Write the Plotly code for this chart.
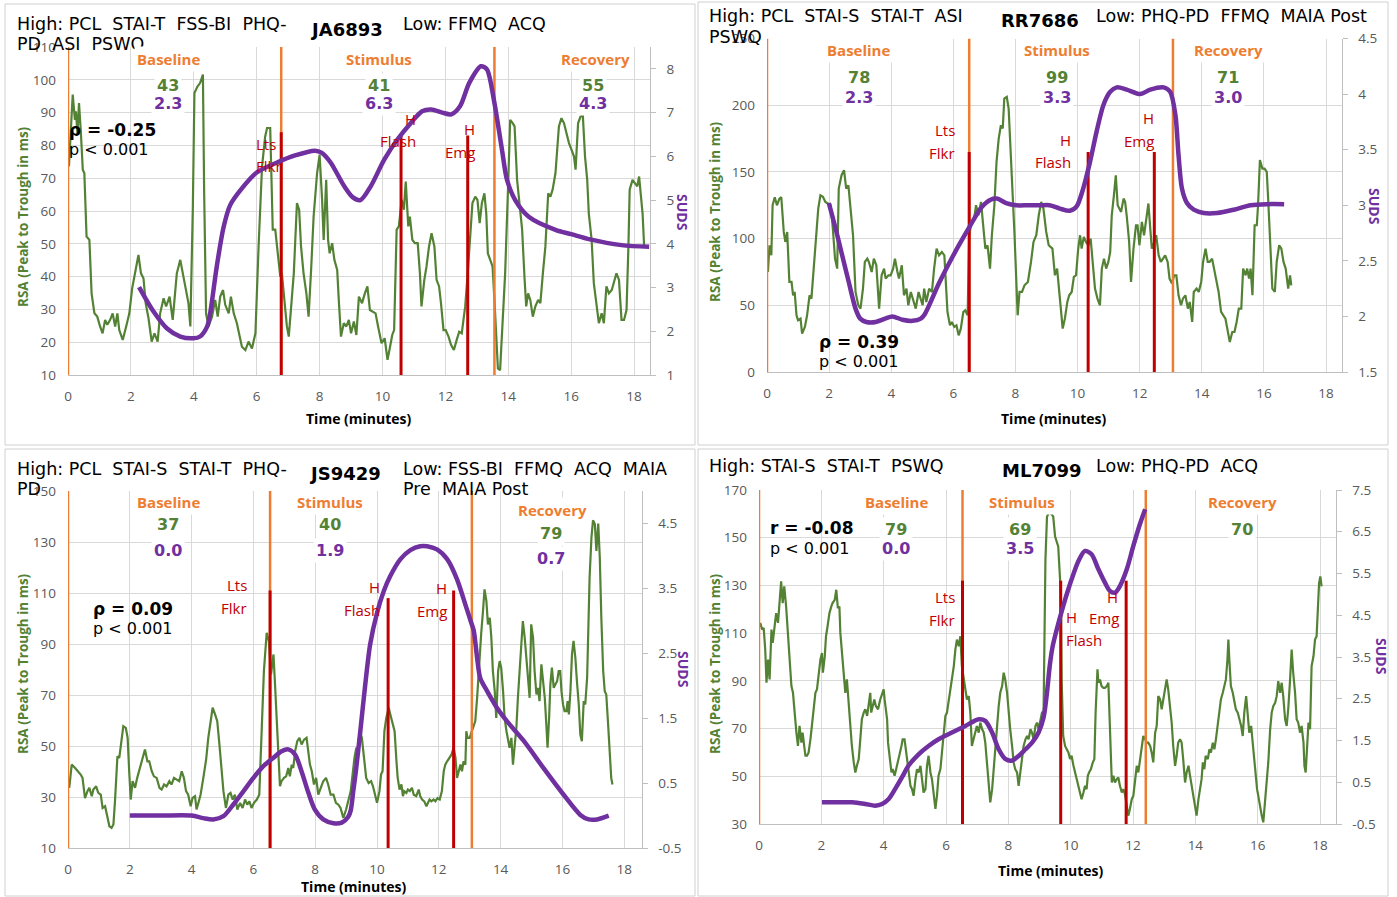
import plotly.graph_objects as go

W, H = 1397, 897
GREEN = '#548235'
PURPLE = '#7030A0'
ORANGE = '#ED7D31'
RED = '#C00000'
GRID = '#D9D9D9'
AXIS = '#BFBFBF'
TICK = '#595959'
SANS = 'Open Sans, DejaVu Sans, sans-serif'
VERD = 'DejaVu Sans, Verdana, sans-serif'

# ---------------- Panel 1 : JA6893 ----------------
p1_rsa = [(0.03,73.6),(0.15,95.5),(0.22,87.8),(0.25,90.4),(0.30,83.8),(0.35,92.9),(0.41,83.8),(0.47,72.6),(0.52,71.5),(0.59,52.2),(0.68,51.2),(0.75,34.9),(0.84,28.8),(0.93,27.8),(1.02,24.8),(1.10,22.7),(1.18,26.8),(1.25,25.3),(1.34,26.8),(1.42,28.8),(1.50,24.8),(1.57,28.8),(1.63,23.7),(1.74,20.7),(1.85,24.8),(1.95,28.8),(2.04,36.4),(2.13,40.5),(2.24,46.6),(2.32,41.0),(2.40,39.5),(2.47,31.9),(2.56,27.3),(2.66,20.2),(2.75,22.7),(2.85,20.2),(2.93,28.8),(3.04,33.4),(3.12,30.9),(3.23,33.9),(3.33,26.8),(3.46,41.0),(3.57,45.1),(3.67,40.0),(3.76,34.9),(3.83,31.9),(3.89,24.8),(3.97,61.4),(4.02,96.0),(4.12,98.0),(4.20,99.0),(4.29,101.6),(4.33,65.4),(4.39,28.8),(4.47,24.8),(4.58,27.8),(4.68,32.9),(4.76,27.8),(4.84,33.9),(4.93,35.9),(5.00,31.4),(5.11,28.8),(5.18,33.9),(5.27,28.8),(5.37,25.8),(5.53,18.6),(5.64,17.6),(5.74,20.2),(5.85,18.1),(5.96,22.7),(6.06,49.2),(6.17,73.6),(6.27,82.7),(6.33,85.3),(6.43,85.3),(6.51,54.3),(6.59,54.3),(6.67,46.1),(6.75,40.0),(6.80,41.0),(6.88,32.9),(6.96,24.8),(7.02,21.7),(7.09,30.9),(7.18,41.0),(7.28,62.4),(7.35,60.4),(7.41,49.2),(7.49,41.0),(7.58,34.9),(7.65,27.8),(7.73,42.0),(7.81,58.3),(7.92,71.5),(8.00,77.1),(8.08,63.4),(8.13,51.2),(8.21,69.5),(8.27,51.2),(8.32,47.1),(8.40,50.2),(8.47,45.1),(8.56,42.0),(8.61,32.9),(8.68,21.7),(8.77,25.8),(8.85,24.8),(8.93,26.8),(9.00,22.7),(9.09,26.3),(9.17,22.2),(9.25,33.9),(9.35,31.9),(9.44,34.9),(9.52,37.0),(9.60,29.8),(9.70,29.3),(9.78,28.8),(9.86,24.8),(9.97,19.7),(10.07,21.2),(10.16,14.6),(10.23,18.1),(10.31,22.2),(10.37,23.7),(10.45,54.3),(10.52,55.3),(10.61,63.4),(10.68,60.4),(10.74,69.0),(10.82,55.3),(10.87,58.3),(10.95,51.2),(11.03,50.2),(11.12,50.2),(11.19,41.0),(11.24,30.9),(11.33,39.0),(11.40,43.1),(11.48,49.2),(11.56,53.2),(11.65,49.2),(11.72,39.0),(11.80,37.0),(11.86,31.9),(11.94,23.7),(12.01,23.7),(12.10,21.7),(12.18,19.2),(12.27,17.6),(12.36,20.7),(12.44,23.2),(12.52,22.7),(12.63,30.9),(12.71,41.0),(12.79,51.2),(12.86,62.4),(12.95,64.4),(13.02,63.4),(13.09,56.3),(13.16,62.4),(13.24,65.4),(13.30,59.3),(13.35,47.1),(13.43,45.1),(13.50,43.1),(13.56,32.9),(13.62,20.7),(13.67,12.0),(13.74,11.5),(13.82,24.8),(13.90,41.0),(13.99,66.5),(14.06,87.8),(14.14,86.8),(14.20,85.8),(14.28,69.5),(14.35,63.4),(14.44,54.3),(14.52,39.0),(14.57,30.9),(14.63,34.9),(14.70,32.9),(14.78,27.8),(14.86,30.9),(14.95,32.9),(15.02,31.9),(15.10,41.0),(15.18,49.2),(15.27,65.4),(15.34,64.4),(15.41,66.5),(15.50,71.5),(15.61,85.8),(15.69,88.3),(15.77,86.8),(15.84,83.8),(15.93,80.7),(16.01,78.7),(16.09,76.6),(16.14,72.6),(16.22,86.8),(16.30,88.8),(16.37,89.3),(16.44,76.6),(16.51,69.5),(16.56,59.3),(16.65,51.2),(16.72,38.0),(16.80,31.9),(16.88,25.8),(16.97,28.8),(17.04,25.8),(17.12,37.0),(17.20,34.9),(17.29,35.9),(17.36,38.0),(17.44,41.0),(17.52,39.0),(17.60,26.8),(17.68,26.8),(17.76,29.8),(17.82,49.2),(17.86,66.5),(17.95,69.5),(18.03,68.5),(18.10,67.5),(18.16,70.5),(18.22,65.4),(18.27,59.3),(18.32,49.2)]
p1_suds = [(2.26,3.01),(2.72,2.45),(3.14,2.07),(3.57,1.88),(3.99,1.84),(4.2,1.88),(4.42,2.1),(4.52,2.41),(4.73,3.48),(4.95,4.39),(5.16,4.89),(5.51,5.25),(6.0,5.63),(6.65,5.86),(7.22,6.02),(7.85,6.13),(8.07,6.08),(8.35,5.86),(8.78,5.32),(9.06,5.06),(9.3,5.0),(9.63,5.32),(10.06,5.93),(10.48,6.39),(10.91,6.77),(11.26,7.03),(11.55,7.07),(11.9,7.0),(12.19,6.96),(12.47,7.15),(12.76,7.68),(13.13,8.06),(13.32,7.99),(13.54,7.3),(13.8,6.15),(13.96,5.46),(14.22,5.0),(14.65,4.62),(15.5,4.32),(16.0,4.22),(16.6,4.1),(17.6,3.97),(18.48,3.93)]
p1_phase = [0.0, 6.78, 13.56]
p1_event = [6.78, 10.59, 12.71]
p1_event_top = [84, 83, 83]
p1_left = [10, 110]
p1_right = [1, 8.5]
p1_right_ticks = [1, 2, 3, 4, 5, 6, 7, 8]

# ---------------- Panel 2 : RR7686 ----------------
p2_rsa = [(0.03,75),(0.08,95),(0.14,87.5),(0.18,125),(0.25,131),(0.32,125),(0.40,130),(0.46,131),(0.54,105),(0.59,97.5),(0.65,105),(0.72,67.5),(0.79,67.5),(0.84,57.5),(0.89,60),(0.95,42.5),(1.00,38.8),(1.08,40),(1.13,28.8),(1.22,33.8),(1.29,42.5),(1.37,57.5),(1.43,55),(1.51,82.5),(1.58,102.5),(1.65,122.5),(1.72,132.5),(1.80,131.3),(1.88,127.5),(1.97,126.3),(2.05,125),(2.12,107.5),(2.19,85),(2.26,77.5),(2.31,137.5),(2.40,147.5),(2.48,151.3),(2.55,137.5),(2.62,140),(2.69,122.5),(2.77,102.5),(2.85,60),(2.94,50),(3.01,47.5),(3.09,62.5),(3.15,82.5),(3.23,85),(3.28,82.5),(3.37,75),(3.44,85),(3.52,80),(3.61,47.5),(3.69,72.5),(3.77,77.5),(3.82,70),(3.91,72.5),(3.98,72.5),(4.06,77.5),(4.12,85),(4.20,75),(4.25,70),(4.34,80),(4.41,57.5),(4.49,62.5),(4.55,50),(4.63,60),(4.70,55),(4.79,47.5),(4.88,60),(4.95,55),(5.01,50),(5.06,62.5),(5.13,52.5),(5.22,62.5),(5.31,60),(5.38,77.5),(5.46,92.5),(5.54,87.5),(5.63,90),(5.71,87.5),(5.76,62.5),(5.81,45),(5.89,35),(5.95,37.5),(6.03,33.8),(6.10,35),(6.17,27.5),(6.24,32.5),(6.32,45),(6.38,46.3),(6.46,42.5),(6.51,102.5),(6.59,112.5),(6.67,115),(6.73,125),(6.81,117.5),(6.89,127.5),(6.96,112.5),(7.03,92.5),(7.10,95),(7.18,77.5),(7.24,102.5),(7.32,125),(7.39,157.5),(7.46,175),(7.53,185),(7.59,182.5),(7.64,205),(7.72,206.3),(7.78,197.5),(7.86,162.5),(7.91,132.5),(7.97,102.5),(8.02,77.5),(8.07,42.5),(8.13,60),(8.21,60),(8.29,65),(8.40,67.5),(8.50,82.5),(8.58,97.5),(8.67,102.5),(8.75,117.5),(8.83,127.5),(8.90,122.5),(8.99,105),(9.07,95),(9.19,92.5),(9.27,72.5),(9.34,77.5),(9.43,52.5),(9.52,32.5),(9.59,40),(9.67,52.5),(9.73,57.5),(9.81,60),(9.88,71.3),(9.95,72.5),(10.02,92.5),(10.08,102.5),(10.13,92.5),(10.20,101.3),(10.27,97.5),(10.34,95),(10.42,100),(10.48,82.5),(10.56,62.5),(10.64,55),(10.72,50),(10.78,77.5),(10.85,85),(10.92,77.5),(10.99,82.5),(11.05,90),(11.10,117.5),(11.17,132.5),(11.23,147.5),(11.29,125),(11.35,122.5),(11.40,120),(11.48,130),(11.53,127.5),(11.58,117.5),(11.66,97.5),(11.72,67.5),(11.80,92.5),(11.88,110),(11.93,110),(11.99,95),(12.07,112.5),(12.14,102.5),(12.21,115),(12.28,126.3),(12.34,107.5),(12.39,92.5),(12.47,97.5),(12.53,102.5),(12.61,87.5),(12.68,82.5),(12.75,85),(12.82,87.5),(12.90,82.5),(12.96,70),(13.04,66.3),(13.11,72.5),(13.18,72.5),(13.25,57.5),(13.33,50),(13.39,55),(13.47,57.5),(13.55,47.5),(13.61,52.5),(13.69,37.5),(13.74,60),(13.83,62.5),(13.90,60),(13.98,67.5),(14.04,82.5),(14.12,92.5),(14.19,82.5),(14.25,82.5),(14.33,85),(14.40,77.5),(14.49,67.5),(14.54,60),(14.62,45),(14.68,42.5),(14.76,40),(14.84,30),(14.90,22.5),(14.98,30),(15.05,30),(15.12,37.5),(15.19,47.5),(15.27,47.5),(15.33,77.5),(15.41,72.5),(15.46,77.5),(15.52,70),(15.57,77.5),(15.63,57.5),(15.70,110),(15.77,110),(15.81,125),(15.87,158.8),(15.95,152.5),(16.02,152.5),(16.09,150),(16.13,132.5),(16.20,97.5),(16.27,62.5),(16.35,60),(16.41,82.5),(16.49,95),(16.56,92.5),(16.63,82.5),(16.70,77.5),(16.78,62.5),(16.84,72.5),(16.88,65)]
p2_suds = [(1.99,3.02),(2.2,2.8),(2.42,2.55),(2.64,2.3),(2.85,2.07),(3.0,1.98),(3.2,1.95),(3.5,1.95),(3.8,1.98),(4.04,2.0),(4.36,1.97),(4.68,1.96),(4.95,1.98),(5.08,2.02),(5.54,2.3),(6.0,2.55),(6.51,2.8),(6.9,2.98),(7.2,3.05),(7.4,3.06),(7.7,3.02),(8.02,3.0),(8.4,3.0),(8.8,3.0),(9.1,3.0),(9.43,2.97),(9.75,2.95),(9.97,2.99),(10.18,3.15),(10.4,3.39),(10.61,3.66),(10.83,3.9),(11.05,4.02),(11.26,4.06),(11.58,4.04),(12.02,4.0),(12.34,4.04),(12.77,4.06),(12.98,4.02),(13.15,3.81),(13.25,3.45),(13.36,3.15),(13.52,3.02),(13.74,2.96),(14.06,2.93),(14.49,2.93),(15.03,2.96),(15.57,3.0),(16.11,3.01),(16.65,3.01)]
p2_phase = [0.0, 6.51, 13.07]
p2_event = [6.51, 10.34, 12.47]
p2_event_top = [165, 165, 165]
p2_left = [0, 250]
p2_right = [1.5, 4.5]
p2_right_ticks = [1.5, 2, 2.5, 3, 3.5, 4, 4.5]

# ---------------- Panel 3 : JS9429 ----------------
p3_rsa = [(0.04,33.6),(0.12,42.7),(0.23,41.4),(0.33,40.1),(0.41,38.8),(0.47,37.5),(0.55,29.6),(0.63,32.3),(0.69,33.6),(0.77,30.3),(0.82,32.9),(0.91,34.2),(0.98,31.6),(1.06,30.9),(1.12,25.7),(1.20,26.4),(1.25,23.7),(1.34,18.5),(1.41,17.9),(1.47,19.2),(1.52,28.3),(1.60,46.0),(1.66,45.3),(1.72,51.9),(1.79,57.8),(1.87,57.1),(1.93,53.2),(1.98,40.1),(2.03,29.0),(2.09,36.2),(2.17,33.6),(2.24,37.5),(2.33,41.4),(2.42,45.3),(2.49,48.6),(2.57,44.0),(2.63,44.0),(2.71,40.1),(2.78,38.1),(2.87,37.5),(2.96,33.6),(3.03,32.9),(3.11,34.9),(3.19,34.2),(3.28,36.2),(3.35,34.9),(3.43,37.5),(3.52,36.8),(3.60,36.2),(3.68,40.1),(3.75,37.5),(3.82,32.3),(3.89,30.9),(3.97,26.4),(4.03,29.6),(4.11,30.3),(4.16,25.1),(4.22,27.7),(4.29,30.9),(4.38,37.5),(4.47,44.7),(4.54,53.2),(4.62,61.0),(4.68,65.0),(4.76,62.4),(4.83,59.7),(4.90,50.6),(4.97,40.1),(5.03,32.3),(5.11,25.7),(5.19,30.9),(5.26,31.6),(5.33,29.0),(5.40,30.9),(5.48,25.1),(5.57,27.7),(5.65,25.7),(5.73,29.0),(5.80,27.0),(5.87,28.3),(5.94,25.7),(6.02,27.7),(6.11,29.0),(6.19,30.9),(6.27,53.2),(6.34,79.4),(6.43,94.4),(6.50,91.2),(6.57,78.1),(6.65,85.9),(6.70,74.1),(6.75,61.0),(6.81,48.0),(6.86,34.2),(6.91,36.2),(6.99,37.5),(7.06,38.1),(7.13,41.4),(7.18,38.1),(7.24,42.7),(7.29,41.4),(7.35,48.0),(7.42,51.9),(7.49,53.2),(7.56,50.6),(7.64,52.5),(7.72,53.2),(7.78,48.0),(7.83,42.7),(7.89,40.1),(7.96,34.9),(8.03,37.5),(8.10,30.9),(8.18,33.6),(8.26,36.2),(8.35,37.5),(8.42,34.9),(8.50,30.9),(8.59,30.9),(8.67,27.7),(8.75,27.0),(8.82,25.7),(8.91,21.8),(9.00,25.1),(9.07,28.3),(9.15,32.3),(9.27,45.3),(9.33,49.3),(9.37,48.0),(9.44,55.8),(9.51,53.2),(9.59,45.3),(9.65,37.5),(9.73,35.5),(9.81,36.2),(9.87,34.2),(9.95,29.6),(10.00,27.7),(10.08,32.3),(10.13,38.8),(10.18,40.1),(10.24,55.8),(10.30,61.0),(10.38,65.0),(10.43,62.4),(10.51,58.4),(10.57,55.8),(10.63,44.0),(10.67,37.5),(10.73,32.9),(10.79,34.9),(10.84,30.3),(10.88,32.3),(10.95,31.6),(11.00,32.9),(11.06,32.3),(11.13,33.6),(11.19,30.9),(11.27,30.3),(11.35,32.9),(11.40,30.3),(11.46,29.0),(11.53,28.3),(11.60,26.4),(11.65,27.7),(11.70,29.0),(11.76,28.3),(11.83,29.0),(11.89,28.3),(11.96,29.6),(12.03,29.0),(12.10,32.3),(12.16,40.1),(12.21,42.7),(12.27,44.0),(12.34,45.3),(12.41,46.6),(12.48,49.3),(12.54,45.3),(12.59,37.5),(12.64,40.1),(12.70,42.7),(12.75,40.1),(12.80,44.0),(12.86,42.7),(12.89,55.8),(12.93,53.2),(13.00,53.2),(13.07,55.8),(13.13,58.4),(13.18,59.7),(13.24,68.9),(13.29,79.4),(13.37,93.8),(13.43,102.9),(13.48,111.4),(13.54,106.9),(13.59,97.7),(13.65,100.3),(13.70,92.5),(13.75,79.4),(13.81,71.5),(13.86,61.0),(13.92,79.4),(13.97,83.3),(14.02,80.7),(14.08,71.5),(14.13,61.0),(14.19,55.8),(14.24,53.2),(14.29,49.3),(14.35,53.2),(14.40,42.7),(14.46,50.6),(14.51,57.1),(14.56,68.9),(14.62,79.4),(14.67,89.8),(14.72,99.0),(14.78,92.5),(14.83,84.6),(14.89,75.4),(14.94,68.9),(14.99,97.7),(15.05,92.5),(15.10,79.4),(15.16,70.2),(15.21,72.8),(15.26,67.6),(15.32,82.0),(15.37,75.4),(15.43,68.9),(15.48,58.4),(15.52,49.3),(15.57,61.0),(15.61,74.1),(15.66,80.7),(15.72,72.8),(15.77,74.1),(15.83,75.4),(15.88,79.4),(15.93,79.4),(15.97,71.5),(16.02,66.3),(16.07,63.7),(16.13,63.7),(16.17,67.6),(16.21,62.4),(16.26,71.5),(16.31,85.9),(16.36,91.2),(16.42,84.6),(16.47,75.4),(16.53,66.3),(16.58,54.5),(16.63,51.9),(16.69,67.6),(16.74,66.3),(16.80,76.8),(16.83,97.7),(16.88,116.0),(16.94,131.7),(16.99,138.5),(17.05,137.0),(17.10,126.5),(17.16,137.2),(17.21,123.9),(17.26,100.3),(17.32,79.4),(17.37,71.5),(17.42,70.2),(17.48,58.4),(17.53,48.0),(17.58,37.5),(17.62,34.9)]
p3_suds = [(2.0,0.0),(3.0,0.0),(4.0,0.0),(4.38,-0.04),(4.7,-0.06),(5.03,-0.01),(5.35,0.17),(5.67,0.37),(6.0,0.58),(6.32,0.76),(6.65,0.89),(6.91,0.99),(7.13,1.02),(7.35,0.94),(7.56,0.68),(7.78,0.35),(7.99,0.09),(8.26,-0.06),(8.59,-0.12),(8.86,-0.11),(9.07,-0.02),(9.15,0.08),(9.23,0.37),(9.32,0.7),(9.46,1.3),(9.62,2.02),(9.78,2.64),(10.0,3.12),(10.22,3.46),(10.43,3.69),(10.76,3.95),(11.08,4.09),(11.4,4.15),(11.62,4.15),(11.94,4.1),(12.27,3.95),(12.59,3.64),(12.86,3.25),(13.05,2.97),(13.13,2.85),(13.24,2.43),(13.34,2.12),(13.56,1.92),(13.88,1.66),(14.21,1.45),(14.75,1.15),(15.39,0.73),(16.04,0.32),(16.58,0.01),(16.85,-0.06),(17.12,-0.06),(17.5,0.0)]
p3_phase = [0.0, 6.54, 13.07]
p3_event = [6.54, 10.36, 12.48]
p3_event_top = [111, 108, 111]
p3_left = [10, 150]
p3_right = [-0.5, 5.0]
p3_right_ticks = [-0.5, 0.5, 1.5, 2.5, 3.5, 4.5]

# ---------------- Panel 4 : ML7099 ----------------
p4_rsa = [(0.04,114.3),(0.10,111.5),(0.15,112.2),(0.20,103.1),(0.24,89.2),(0.29,98.9),(0.34,90.6),(0.40,111.5),(0.44,105.9),(0.49,110.8),(0.55,118.4),(0.61,114.3),(0.65,121.9),(0.71,131.7),(0.76,122.6),(0.81,129.6),(0.87,121.2),(0.93,108.7),(0.98,96.2),(1.04,87.8),(1.09,85.0),(1.14,76.7),(1.20,68.3),(1.25,62.7),(1.30,71.1),(1.36,64.1),(1.40,68.3),(1.45,62.7),(1.49,58.6),(1.54,58.6),(1.59,59.9),(1.65,65.5),(1.70,72.5),(1.75,76.7),(1.81,85.0),(1.86,86.4),(1.91,92.0),(1.97,98.9),(2.02,101.7),(2.05,93.4),(2.11,100.3),(2.15,108.7),(2.20,112.9),(2.26,118.4),(2.32,121.2),(2.36,122.6),(2.43,124.0),(2.48,128.2),(2.53,120.5),(2.58,121.2),(2.61,110.1),(2.66,101.7),(2.72,90.6),(2.77,85.0),(2.82,90.6),(2.88,79.4),(2.93,73.9),(2.98,62.7),(3.04,55.8),(3.09,51.6),(3.14,54.4),(3.20,57.2),(3.25,65.5),(3.30,73.9),(3.36,76.7),(3.41,78.1),(3.47,75.3),(3.52,79.4),(3.57,85.0),(3.60,76.7),(3.65,79.4),(3.70,82.2),(3.75,79.4),(3.82,78.1),(3.89,82.2),(3.95,85.0),(4.00,86.4),(4.03,82.2),(4.07,78.1),(4.11,73.9),(4.14,64.1),(4.19,58.6),(4.25,51.6),(4.29,53.0),(4.35,50.2),(4.40,53.0),(4.46,57.2),(4.50,58.6),(4.57,62.7),(4.61,65.5),(4.67,65.5),(4.72,59.9),(4.75,57.2),(4.80,53.0),(4.86,46.0),(4.91,44.6),(4.96,41.8),(5.02,48.8),(5.07,53.0),(5.12,51.6),(5.18,54.4),(5.23,48.8),(5.28,43.2),(5.34,44.6),(5.39,54.4),(5.44,58.6),(5.50,51.6),(5.55,48.8),(5.60,41.8),(5.66,36.3),(5.71,41.8),(5.76,50.2),(5.82,53.0),(5.87,59.9),(5.93,68.3),(5.98,75.3),(6.03,76.7),(6.09,82.2),(6.14,86.4),(6.19,90.6),(6.25,96.2),(6.30,103.1),(6.35,107.3),(6.41,104.5),(6.46,108.7),(6.51,96.2),(6.57,90.6),(6.62,85.0),(6.67,82.2),(6.73,83.6),(6.78,76.7),(6.83,62.7),(6.89,65.5),(6.94,68.3),(6.99,71.1),(7.05,68.3),(7.10,72.5),(7.16,69.7),(7.21,68.3),(7.26,64.1),(7.32,55.8),(7.37,46.0),(7.42,39.1),(7.48,44.6),(7.53,53.0),(7.58,64.1),(7.64,73.9),(7.69,79.4),(7.74,85.0),(7.80,87.8),(7.85,93.4),(7.90,90.6),(7.96,85.0),(8.01,76.7),(8.06,69.7),(8.12,62.7),(8.17,55.8),(8.22,53.0),(8.28,51.6),(8.33,46.0),(8.39,51.6),(8.44,55.8),(8.49,62.7),(8.55,65.5),(8.60,66.9),(8.65,65.5),(8.71,69.7),(8.76,68.3),(8.81,65.5),(8.87,71.1),(8.92,72.5),(8.97,69.7),(9.03,73.9),(9.08,76.7),(9.13,76.7),(9.19,140.7),(9.24,158.8),(9.29,160.2),(9.37,160.2),(9.44,158.8),(9.50,150.5),(9.55,148.4),(9.60,146.3),(9.66,132.4),(9.69,118.4),(9.71,90.6),(9.76,66.9),(9.82,62.7),(9.87,61.3),(9.93,59.9),(9.98,57.2),(10.03,58.6),(10.09,54.4),(10.14,51.6),(10.19,48.8),(10.25,44.6),(10.30,42.5),(10.35,40.4),(10.41,43.2),(10.46,46.0),(10.51,44.6),(10.55,50.2),(10.59,51.6),(10.65,53.0),(10.71,55.8),(10.76,57.2),(10.80,76.7),(10.86,94.8),(10.89,89.2),(10.94,90.6),(10.99,87.8),(11.05,87.1),(11.10,87.1),(11.16,87.8),(11.21,89.2),(11.24,76.7),(11.27,62.7),(11.32,47.4),(11.37,50.2),(11.42,47.4),(11.48,48.8),(11.53,49.5),(11.58,46.0),(11.64,43.2),(11.69,44.6),(11.74,42.5),(11.80,37.7),(11.85,33.5),(11.90,36.3),(11.96,40.4),(12.01,41.8),(12.06,48.8),(12.12,54.4),(12.17,51.6),(12.22,57.2),(12.28,62.7),(12.33,66.9),(12.39,65.5),(12.44,64.1),(12.49,64.1),(12.55,62.7),(12.60,59.9),(12.65,55.8),(12.71,68.3),(12.76,71.1),(12.81,83.6),(12.87,82.2),(12.92,78.1),(12.97,82.2),(13.03,86.4),(13.08,90.6),(13.13,86.4),(13.19,79.4),(13.24,72.5),(13.29,62.7),(13.35,54.4),(13.40,58.6),(13.45,64.1),(13.51,65.5),(13.56,64.1),(13.61,57.2),(13.67,47.4),(13.72,51.6),(13.78,54.4),(13.83,50.2),(13.88,46.0),(13.94,40.4),(13.99,36.3),(14.04,33.5),(14.10,40.4),(14.15,44.6),(14.20,48.8),(14.24,55.8),(14.29,53.0),(14.33,58.6),(14.40,57.2),(14.45,61.3),(14.50,59.9),(14.56,64.1),(14.61,61.3),(14.66,65.5),(14.72,72.5),(14.77,76.7),(14.82,82.2),(14.88,85.0),(14.93,87.8),(14.98,90.6),(15.03,98.9),(15.06,107.3),(15.09,98.9),(15.14,87.8),(15.20,85.0),(15.25,82.2),(15.30,78.1),(15.36,76.7),(15.41,73.9),(15.47,71.1),(15.52,66.9),(15.57,76.7),(15.63,83.6),(15.68,76.7),(15.73,68.3),(15.79,71.1),(15.84,64.1),(15.89,57.2),(15.94,48.8),(15.98,44.6),(16.02,41.8),(16.07,37.7),(16.13,33.5),(16.18,30.7),(16.24,40.4),(16.29,48.8),(16.34,55.8),(16.40,69.7),(16.45,76.7),(16.50,79.4),(16.56,80.8),(16.61,83.6),(16.66,89.9),(16.72,85.0),(16.77,89.2),(16.82,83.6),(16.88,73.9),(16.93,71.1),(16.98,78.1),(17.04,90.6),(17.09,103.1),(17.14,93.4),(17.20,85.0),(17.25,73.9),(17.30,72.5),(17.36,68.3),(17.41,71.1),(17.47,64.1),(17.50,54.4),(17.54,51.6),(17.59,65.5),(17.63,72.5),(17.68,69.7),(17.73,96.2),(17.79,100.3),(17.84,107.3),(17.89,108.7),(17.93,118.4),(17.97,131.0),(18.01,133.8),(18.05,129.6)]
p4_suds = [(2.02,0.02),(2.5,0.02),(3.0,0.02),(3.41,-0.02),(3.73,-0.06),(3.95,-0.02),(4.16,0.1),(4.37,0.34),(4.59,0.62),(4.8,0.9),(5.12,1.17),(5.44,1.37),(5.76,1.53),(6.19,1.69),(6.62,1.85),(7.05,2.01),(7.26,1.97),(7.48,1.69),(7.69,1.29),(7.9,1.06),(8.12,1.02),(8.33,1.13),(8.55,1.29),(8.76,1.45),(8.97,1.69),(9.13,2.05),(9.24,2.65),(9.33,3.3),(9.42,3.75),(9.55,4.15),(9.76,4.72),(10.03,5.36),(10.25,5.8),(10.46,6.04),(10.67,5.96),(10.89,5.6),(11.1,5.28),(11.26,5.08),(11.42,5.04),(11.58,5.2),(11.8,5.6),(12.01,6.16),(12.22,6.68),(12.39,7.04)]
p4_phase = [0.0, 6.53, 12.41]
p4_event = [6.53, 9.68, 11.78]
p4_event_top = [132, 132, 132]
p4_left = [30, 170]
p4_right = [-0.5, 7.5]
p4_right_ticks = [-0.5, 0.5, 1.5, 2.5, 3.5, 4.5, 5.5, 6.5, 7.5]

# ---------------- Text ----------------
phase_names = ['Baseline', 'Stimulus', 'Recovery']
p1_rsa_means = ['43', '41', '55']
p1_suds_means = ['2.3', '6.3', '4.3']
p2_rsa_means = ['78', '99', '71']
p2_suds_means = ['2.3', '3.3', '3.0']
p3_rsa_means = ['37', '40', '79']
p3_suds_means = ['0.0', '1.9', '0.7']
p4_rsa_means = ['79', '69', '70']
p4_suds_means = ['0.0', '3.5', '']

# panel geometry in pixels (plot box): x0, x1, top, bottom, xmax
geom = [
    (68, 649.8, 47, 375, 18.5),
    (767, 1341.6, 38.5, 372, 18.5),
    (68, 641.5, 491, 848, 18.56),
    (759, 1335.6, 490, 824, 18.5),
]
left_ticks = [(10, 10), (0, 50), (10, 20), (30, 20)]

panels = [
    (p1_rsa, p1_suds, p1_phase, p1_event, p1_event_top, p1_left, p1_right, p1_right_ticks),
    (p2_rsa, p2_suds, p2_phase, p2_event, p2_event_top, p2_left, p2_right, p2_right_ticks),
    (p3_rsa, p3_suds, p3_phase, p3_event, p3_event_top, p3_left, p3_right, p3_right_ticks),
    (p4_rsa, p4_suds, p4_phase, p4_event, p4_event_top, p4_left, p4_right, p4_right_ticks),
]

fig = go.Figure()
layout = dict(width=W, height=H, autosize=False, template='none',
              margin=dict(l=0, r=0, t=0, b=0, pad=0, autoexpand=False),
              paper_bgcolor='white', plot_bgcolor='white', showlegend=False)

tickfont = dict(family=SANS, size=13.5, color=TICK)

for i, (rsa, suds, phase, event, etop, lr, rr, rticks) in enumerate(panels):
    k = i + 1
    x0, x1, top, bot, xmax = geom[i]
    xname = 'xaxis' if k == 1 else 'xaxis%d' % k
    xref = 'x' if k == 1 else 'x%d' % k
    yl = 2 * k - 1
    yr = 2 * k
    ylname = 'yaxis' if yl == 1 else 'yaxis%d' % yl
    yrname = 'yaxis%d' % yr
    ylref = 'y' if yl == 1 else 'y%d' % yl
    yrref = 'y%d' % yr
    xdom = [x0 / W, x1 / W]
    ydom = [1 - bot / H, 1 - top / H]
    layout[xname] = dict(domain=xdom, range=[0, xmax], anchor=ylref, tick0=0, dtick=2,
                         showgrid=True, gridcolor=GRID, gridwidth=1, zeroline=False,
                         showline=True, linecolor=AXIS, linewidth=1, ticks='',
                         tickfont=tickfont, ticklabelstandoff=9, automargin=False)
    layout[ylname] = dict(domain=ydom, range=lr, anchor=xref, tick0=left_ticks[i][0],
                          dtick=left_ticks[i][1], showgrid=True, gridcolor=GRID, gridwidth=1,
                          zeroline=False, showline=False, ticks='', tickfont=tickfont,
                          ticklabelstandoff=11, automargin=False)
    layout[yrname] = dict(domain=ydom, range=rr, anchor=xref, overlaying=ylref, side='right',
                          tickmode='array', tickvals=rticks, ticktext=['%g' % v for v in rticks],
                          showgrid=False, zeroline=False, showline=True, linecolor=AXIS,
                          linewidth=1, ticks='outside', ticklen=5, tickcolor=AXIS,
                          tickfont=tickfont, ticklabelstandoff=8, automargin=False)

    t_r = [p[0] for p in rsa]
    v_r = [p[1] for p in rsa]
    fig.add_trace(go.Scatter(x=t_r, y=v_r, mode='lines', line=dict(color=GREEN, width=2.2),
                             xaxis=xref, yaxis=ylref, hoverinfo='skip'))
    ox, oy = [], []
    for t in phase:
        ox += [t, t, None]
        oy += [lr[0], lr[1], None]
    fig.add_trace(go.Scatter(x=ox, y=oy, mode='lines', line=dict(color=ORANGE, width=2.5),
                             xaxis=xref, yaxis=ylref, hoverinfo='skip'))
    rx, ry = [], []
    for t, tp in zip(event, etop):
        rx += [t, t, None]
        ry += [lr[0], tp, None]
    fig.add_trace(go.Scatter(x=rx, y=ry, mode='lines', line=dict(color=RED, width=3),
                             xaxis=xref, yaxis=ylref, hoverinfo='skip'))
    t_s = [p[0] for p in suds]
    v_s = [p[1] for p in suds]
    fig.add_trace(go.Scatter(x=t_s, y=v_s, mode='lines',
                             line=dict(color=PURPLE, width=4.5, shape='spline', smoothing=0.8),
                             xaxis=xref, yaxis=yrref, hoverinfo='skip'))

fig.update_layout(**layout)


def ann(text, px, py, size, color, family=SANS, xanchor='center', bg=None, angle=0):
    d = dict(text=text, x=px / W, y=1 - py / H, xref='paper', yref='paper',
             xanchor=xanchor, yanchor='middle', showarrow=False, textangle=angle,
             font=dict(size=size, color=color, family=family))
    if bg:
        d['bgcolor'] = bg
        d['borderpad'] = 2
    return d


def sp(s):
    return s.replace('  ', ' \u00a0')


A = []
# headers
hdr = [
    ('High: PCL  STAI-T  FSS-BI  PHQ-', 15, 24), ('PD  ASI  PSWQ', 15, 44), ('Low: FFMQ  ACQ', 401, 24),
    ('High: PCL  STAI-S  STAI-T  ASI', 707, 16), ('PSWQ', 707, 37), ('Low: PHQ-PD  FFMQ  MAIA Post', 1094, 16),
    ('High: PCL  STAI-S  STAI-T  PHQ-', 15, 469), ('PD', 15, 489), ('Low: FSS-BI  FFMQ  ACQ  MAIA', 401, 469),
    ('Pre  MAIA Post', 401, 489),
    ('High: STAI-S  STAI-T  PSWQ', 707, 466), ('Low: PHQ-PD  ACQ', 1094, 466),
]
for t, x, y in hdr:
    A.append(ann(sp(t), x, y, 17.5, 'black', VERD, 'left'))
for t, x, y in [('JA6893', 346, 29), ('RR7686', 1040, 21), ('JS9429', 345, 473), ('ML7099', 1041, 470)]:
    A.append(ann('<b>%s</b>' % t, x, y, 18, 'black', VERD))

# phase names and means
phase_pos = [
    [(168, 59), (379, 59), (595, 59)],
    [(859, 50), (1057, 50), (1228, 50)],
    [(168, 502), (330, 502), (552, 510)],
    [(896, 502), (1022, 502), (1242, 502)],
]
mean_pos = [
    [(168, 86, 104), (379, 86, 104), (593, 86, 104)],
    [(859, 78, 97), (1057, 78, 97), (1228, 78, 97)],
    [(168, 524, 550), (330, 524, 550), (551, 533, 558)],
    [(896, 529, 548), (1020, 529, 548), (1242, 529, 548)],
]
rsa_means = [p1_rsa_means, p2_rsa_means, p3_rsa_means, p4_rsa_means]
suds_means = [p1_suds_means, p2_suds_means, p3_suds_means, p4_suds_means]
for i in range(4):
    for j in range(3):
        x, y = phase_pos[i][j]
        A.append(ann('<b>%s</b>' % phase_names[j], x, y, 15, ORANGE, SANS, bg='white'))
        mx, my1, my2 = mean_pos[i][j]
        A.append(ann('<b>%s</b>' % rsa_means[i][j], mx, my1, 16, GREEN, VERD, bg='white'))
        if suds_means[i][j]:
            A.append(ann('<b>%s</b>' % suds_means[i][j], mx, my2, 16, PURPLE, VERD, bg='white'))

# correlation text
for t, x, y1 in [('ρ = -0.25', 67, 130), ('ρ = 0.39', 817, 342), ('ρ = 0.09', 91, 609), ('r = -0.08', 768, 528)]:
    A.append(ann('<b>%s</b>' % t, x, y1, 17, 'black', VERD, 'left'))
for x, y in [(67, 149), (817, 361), (91, 628), (768, 548)]:
    A.append(ann('p < 0.001', x, y, 16, 'black', VERD, 'left'))

# event labels
ev = [
    ('Lts', 254, 144, 'left'), ('Flkr', 254, 166, 'left'),
    ('H', 418, 119, 'right'), ('Flash', 418, 141, 'right'),
    ('H', 477, 129, 'right'), ('Emg', 477, 152, 'right'),
    ('Lts', 957, 130, 'right'), ('Flkr', 957, 153, 'right'),
    ('H', 1073, 140, 'right'), ('Flash', 1073, 162, 'right'),
    ('H', 1156, 118, 'right'), ('Emg', 1156, 141, 'right'),
    ('Lts', 249, 585, 'right'), ('Flkr', 249, 608, 'right'),
    ('H', 382, 587, 'right'), ('Flash', 382, 610, 'right'),
    ('H', 449, 588, 'right'), ('Emg', 449, 611, 'right'),
    ('Lts', 957, 597, 'right'), ('Flkr', 957, 620, 'right'),
    ('H', 1064, 617, 'left'), ('Flash', 1064, 640, 'left'),
    ('H', 1120, 597, 'right'), ('Emg', 1121, 618, 'right'),
]
for t, x, y, xa in ev:
    A.append(ann(t, x, y, 15, RED, SANS, xa))

# axis titles
for x, y in [(23, 217), (715, 212), (23, 664), (715, 664)]:
    A.append(ann('<b>RSA (Peak to Trough in ms)</b>', x, y, 13.5, GREEN, SANS, angle=-90))
for x, y in [(683, 212), (1375, 206), (684, 669), (1382, 656)]:
    A.append(ann('<b>SUDS</b>', x, y, 14, PURPLE, SANS, angle=90))
for x, y in [(359, 418), (1054, 418), (354, 886), (1051, 870)]:
    A.append(ann('<b>Time (minutes)</b>', x, y, 14, 'black', SANS))

shapes = []
for (a, b, c, d) in [(5, 4, 695, 445), (698, 2, 1388, 445), (5, 449, 695, 896), (698, 449, 1388, 896)]:
    shapes.append(dict(type='rect', xref='paper', yref='paper', x0=a / W, x1=c / W,
                       y0=1 - d / H, y1=1 - b / H, line=dict(color='#D0D0D0', width=1),
                       layer='below'))

fig.update_layout(annotations=A, shapes=shapes)
fig.write_html('out.html')
